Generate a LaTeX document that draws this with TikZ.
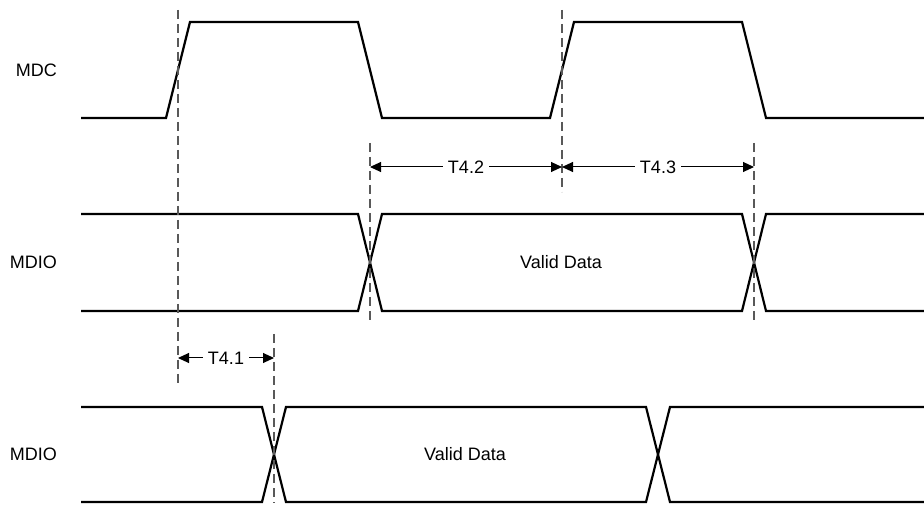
\documentclass[tikz,border=0pt]{standalone}
\usepackage{fontspec}
\setmainfont{Liberation Sans}
\usetikzlibrary{positioning}
\usetikzlibrary{arrows.meta}

\begin{document}
\begin{tikzpicture}[x=1pt, y=-1pt,
    wave/.style={line width=2.2pt, line join=miter},
    guide/.style={draw=black!65, line width=1.2pt, dash pattern=on 9pt off 5pt},
    span/.style={line width=1pt, {Triangle[length=11pt,width=10pt]}-{Triangle[length=11pt,width=10pt]}},
    tlabel/.style={fill=white, inner sep=5pt, font=\fontsize{18}{21}\selectfont},
    siglabel/.style={anchor=east, inner sep=0pt, font=\fontsize{18}{21}\selectfont},
    datalabel/.style={inner sep=0pt, font=\fontsize{18}{21}\selectfont}]
        \useasboundingbox (0,0) rectangle (924,510);
        % signal names
        \node[siglabel] (mdc) at (57,70) {MDC};
        \node[siglabel, below=192pt of mdc.east, anchor=east] (mdioa) {MDIO};
        \node[siglabel, below=192pt of mdioa.east, anchor=east] (mdiob) {MDIO};

        % waveforms
        \draw[wave] (81,118) -- (166,118) -- (190,22) -- (358,22) -- (382,118) -- (550,118)
            -- (574,22) -- (742,22) -- (766,118) -- (924,118);
        \draw[wave] (81,214) -- (358,214) -- (382,311) -- (742,311) -- (766,214) -- (924,214);
        \draw[wave] (81,311) -- (358,311) -- (382,214) -- (742,214) -- (766,311) -- (924,311);
        \draw[wave] (81,407) -- (262,407) -- (286,502) -- (646,502) -- (670,407) -- (924,407);
        \draw[wave] (81,502) -- (262,502) -- (286,407) -- (646,407) -- (670,502) -- (924,502);
        \node[datalabel] (dataa) at (561,262) {Valid Data};
        \node[datalabel] (datab) at (465,454) {Valid Data};

        % guides
        \coordinate (g1t) at (178,10);  \coordinate (g1b) at (178,383);
        \coordinate (g2t) at (370,143); \coordinate (g2b) at (370,323);
        \coordinate (g3t) at (562,10);  \coordinate (g3b) at (562,192);
        \coordinate (g4t) at (754,143); \coordinate (g4b) at (754,323);
        \coordinate (g5t) at (274,334); \coordinate (g5b) at (274,503);
        \draw[guide] (g1t) -- (g1b);
        \draw[guide] (g2t) -- (g2b);
        \draw[guide] (g3t) -- (g3b);
        \draw[guide] (g4t) -- (g4b);
        \draw[guide] (g5t) -- (g5b);

        % timing spans
        \coordinate (rowa) at (0,167);
        \coordinate (rowb) at (0,358);
        \draw[span] (g2t |- rowa) -- (g3t |- rowa) node[tlabel, midway] (t42) {T4.2};
        \draw[span] (g3t |- rowa) -- (g4t |- rowa) node[tlabel, midway] (t43) {T4.3};
        \draw[span] (g1t |- rowb) -- (g5t |- rowb) node[tlabel, midway] (t41) {T4.1};
    \end{tikzpicture}
\end{document}
